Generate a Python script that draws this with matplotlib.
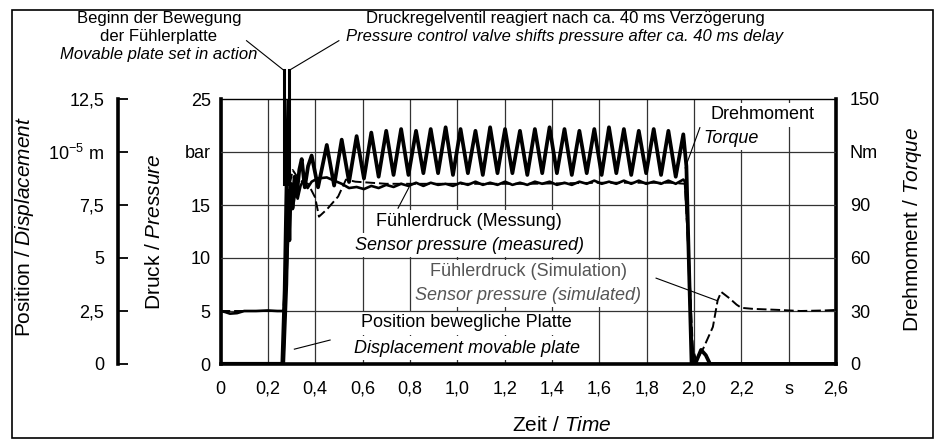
import numpy as np
import matplotlib.pyplot as plt
from matplotlib.patches import Rectangle

plt.rcParams['font.family'] = ['Liberation Sans', 'DejaVu Sans']
plt.rcParams['mathtext.fontset'] = 'custom'
plt.rcParams['mathtext.rm'] = 'Liberation Sans'
plt.rcParams['mathtext.it'] = 'Liberation Sans:italic'

# axes ticks and labels
time_ticks = [0, 0.2, 0.4, 0.6, 0.8, 1.0, 1.2, 1.4, 1.6, 1.8, 2.0, 2.2, 2.4, 2.6]
time_labels = ['0', '0,2', '0,4', '0,6', '0,8', '1,0', '1,2', '1,4', '1,6', '1,8', '2,0', '2,2', 's', '2,6']
pressure_ticks = [0, 5, 10, 15, 20, 25]
pressure_labels = ['0', '5', '10', '15', 'bar', '25']
position_ticks = [0, 2.5, 5, 7.5, 10, 12.5]
position_labels = ['0', '2,5', '5', '7,5', r'$\mathregular{10^{-5}}$ m', '12,5']
torque_ticks = [0, 30, 60, 90, 120, 150]
torque_labels = ['0', '30', '60', '90', 'Nm', '150']

# torque oscillation (Nm), peaks and troughs
peak_t = [0.449, 0.512, 0.575, 0.637, 0.700, 0.763, 0.826, 0.888, 0.951, 1.014,
          1.077, 1.139, 1.202, 1.265, 1.328, 1.390, 1.453, 1.516, 1.579, 1.641,
          1.704, 1.767, 1.830, 1.892, 1.955]
peak_nm = [124, 127, 129, 131, 132, 133, 132, 133, 134, 133, 132, 134, 133, 132,
           133, 134, 133, 132, 133, 134, 133, 132, 133, 132, 130]
trough_t = [0.480, 0.543, 0.606, 0.668, 0.731, 0.794, 0.857, 0.919, 0.982, 1.045,
            1.108, 1.170, 1.233, 1.296, 1.359, 1.421, 1.484, 1.547, 1.610, 1.672,
            1.735, 1.798, 1.861, 1.923]
trough_nm = [101, 103, 105, 106, 107, 107, 108, 108, 107, 108, 107, 108, 108, 107,
             108, 108, 107, 108, 107, 108, 107, 108, 107, 106]

torque_start_t = [0.0, 0.265, 0.278, 0.286, 0.291, 0.297, 0.304, 0.313, 0.322, 0.333,
                  0.343, 0.356, 0.370, 0.385, 0.412]
torque_start_nm = [0, 0, 45, 98, 70, 102, 88, 106, 96, 110, 116, 100, 112, 118, 100]
torque_end_t = [1.968, 1.978, 1.990, 2.005, 2.030, 2.050, 2.068, 2.6]
torque_end_nm = [112, 60, 0, 0, 8, 5, 0, 0]

# measured sensor pressure (bar)
press_at_peak = [17.6, 17.0, 16.7, 16.8, 16.9, 17.0, 17.1, 17.1, 17.0, 17.1, 17.2, 17.1,
                 17.2, 17.1, 17.2, 17.2, 17.1, 17.2, 17.3, 17.2, 17.3, 17.3, 17.2, 17.3, 17.4]
press_at_trough = [17.3, 16.6, 16.5, 16.6, 16.7, 16.8, 16.8, 16.9, 16.8, 16.9, 16.9, 16.9,
                   16.9, 16.9, 17.0, 16.9, 16.9, 17.0, 17.0, 17.0, 17.0, 17.0, 17.0, 17.0]
press_start_t = [0.0, 0.02, 0.04, 0.07, 0.10, 0.15, 0.20, 0.24, 0.268, 0.280, 0.290,
                 0.298, 0.306, 0.316, 0.326, 0.338, 0.352, 0.368, 0.385, 0.41]
press_start_bar = [5.0, 4.9, 4.75, 4.8, 5.0, 5.0, 5.05, 5.0, 5.0, 9.0, 14.0,
                   15.5, 14.8, 16.2, 15.6, 16.8, 17.4, 16.6, 17.2, 17.5]
press_end_t = [1.962, 1.975, 1.988, 2.0, 2.6]
press_end_bar = [17.2, 12.0, 3.0, 0.0, 0.0]

# simulated sensor pressure (bar)
sim_t = [0.0, 0.265, 0.280, 0.293, 0.305, 0.320, 0.345, 0.370, 0.400, 0.416, 0.450,
         0.497, 0.530, 0.570, 0.700, 1.000, 1.300, 1.600, 1.900, 1.962, 1.980, 1.995,
         2.010, 2.040, 2.080, 2.100, 2.115, 2.150, 2.180, 2.200, 2.250, 2.360, 2.450,
         2.550, 2.600]
sim_bar = [5.0, 5.0, 10.5, 17.0, 18.3, 17.8, 17.2, 17.0, 15.7, 13.9, 14.6,
           15.8, 17.4, 17.2, 17.0, 17.0, 17.0, 17.1, 17.1, 17.0, 9.0, 1.5,
           0.3, 1.5, 3.5, 6.0, 6.8, 6.2, 5.6, 5.3, 5.2, 5.1, 5.0,
           5.05, 5.1]

# plate displacement (1e-5 m)
pos_t = [0.0, 0.262, 0.272, 0.280, 0.290]
pos_val = [0.0, 0.0, 3.5, 8.5, 14.0]

# event times marked above the plot
t_plate_start = 0.268
t_valve = 0.290

# assemble the oscillating part
osc_t = np.empty(len(peak_t) + len(trough_t))
osc_t[0::2] = peak_t
osc_t[1::2] = trough_t
osc_nm = np.empty_like(osc_t)
osc_nm[0::2] = peak_nm
osc_nm[1::2] = trough_nm
osc_p = np.empty_like(osc_t)
osc_p[0::2] = press_at_peak
osc_p[1::2] = press_at_trough

torque_t = np.concatenate([torque_start_t, osc_t, torque_end_t])
torque_nm = np.concatenate([torque_start_nm, osc_nm, torque_end_nm])
press_t = np.concatenate([press_start_t, osc_t, press_end_t])
press_bar = np.concatenate([press_start_bar, osc_p, press_end_bar])

W, H = 939, 440
L, R, T, B = 220.5, 836, 99, 364
fig = plt.figure(figsize=(W / 100, H / 100), dpi=100)
ax = fig.add_axes([L / W, 1 - B / H, (R - L) / W, (B - T) / H])

fs_tick = 13
ax.set_xlim(0, 2.6)
ax.set_ylim(0, 25)
ax.set_xticks(time_ticks, time_labels)
ax.set_yticks(pressure_ticks, pressure_labels)
ax.tick_params(axis='both', length=0, labelsize=fs_tick)
ax.tick_params(axis='x', pad=12)
ax.tick_params(axis='y', pad=7)
ax.set_axisbelow(True)
ax.grid(axis='x', color='#333333', lw=0.9)
for v in pressure_ticks[1:-1]:
    ax.axhline(v, color='#333333', lw=0.9, zorder=3)
for s in ['left', 'bottom', 'right']:
    ax.spines[s].set_linewidth(2.6)
ax.spines['top'].set_linewidth(1.0)

ax.plot(sim_t, sim_bar, color='black', lw=1.4, ls=(0, (5, 2)), zorder=4)
ax.plot(press_t, press_bar, color='black', lw=1.9, zorder=5)

# torque axis on the right
axt = ax.twinx()
axt.set_ylim(0, 150)
axt.set_yticks(torque_ticks, torque_labels)
axt.tick_params(length=0, pad=10, labelsize=fs_tick)
for s in axt.spines.values():
    s.set_visible(False)
axt.plot(torque_t, torque_nm, color='black', lw=2.7, solid_joinstyle='round')

# displacement axis further left
axp = ax.twinx()
axp.set_ylim(0, 12.5)
for s in axp.spines.values():
    s.set_visible(False)
axp.spines['left'].set_visible(True)
axp.spines['left'].set_position(('axes', (118 - L) / (R - L)))
axp.spines['left'].set_linewidth(2.6)
axp.yaxis.set_ticks_position('left')
axp.set_yticks(position_ticks, position_labels)
axp.tick_params(direction='in', length=7, width=1.3, pad=10, labelsize=fs_tick)
axp.plot(pos_t, pos_val, color='black', lw=3.0)

# axis titles
fs_lab = 15
fig.text(25 / W, 1 - 227 / H, r'Position / $\mathit{Displacement}$', rotation=90,
         ha='center', va='center', fontsize=fs_lab)
fig.text(155 / W, 1 - 232 / H, r'Druck / $\mathit{Pressure}$', rotation=90,
         ha='center', va='center', fontsize=fs_lab)
fig.text(913 / W, 1 - 229 / H, r'Drehmoment / $\mathit{Torque}$', rotation=90,
         ha='center', va='center', fontsize=fs_lab)
fig.text(562 / W, 1 - 425 / H, r'Zeit / $\mathit{Time}$', ha='center', va='center',
         fontsize=fs_lab)

# curve labels
box = dict(fc='white', ec='none', pad=2.5)
fs = 13
ax.text(1.05, 13.4, 'Fühlerdruck (Messung)', ha='center', va='center', fontsize=fs,
        bbox=box, zorder=2.9)
ax.text(1.05, 11.2, 'Sensor pressure (measured)', ha='center', va='center', fontsize=fs,
        style='italic', bbox=box, zorder=2.9)
ax.plot([0.75, 0.797], [14.7, 16.7], color='black', lw=0.8, zorder=4)

ax.text(1.30, 8.7, 'Fühlerdruck (Simulation)', ha='center', va='center', fontsize=fs,
        color='#555555', bbox=box, zorder=2.9)
ax.text(1.30, 6.5, 'Sensor pressure (simulated)', ha='center', va='center', fontsize=fs,
        color='#555555', style='italic', bbox=box, zorder=2.9)
ax.plot([1.84, 2.095], [8.1, 6.0], color='black', lw=0.8, zorder=4)

ax.text(1.04, 3.9, 'Position bewegliche Platte', ha='center', va='center', fontsize=fs,
        bbox=box, zorder=2.9)
ax.text(1.04, 1.5, 'Displacement movable plate', ha='center', va='center', fontsize=fs,
        style='italic', bbox=box, zorder=2.9)
ax.plot([0.463, 0.312], [2.26, 1.4], color='black', lw=0.8, zorder=4)

ax.text(2.29, 23.5, 'Drehmoment', ha='center', va='center', fontsize=fs,
        bbox=box, zorder=2.9)
ax.text(2.04, 21.3, 'Torque', ha='left', va='center', fontsize=fs, style='italic',
        bbox=box, zorder=2.9)
ax.plot([2.025, 1.963], [22.3, 18.5], color='black', lw=0.8, zorder=4)

# event annotations above the plot
y_top = 27.7
fs_top = 12
ax.text(-0.26, 32.6, 'Beginn der Bewegung', ha='center', va='center', fontsize=fs_top,
        clip_on=False)
ax.text(-0.26, 30.9, 'der Fühlerplatte', ha='center', va='center', fontsize=fs_top,
        clip_on=False)
ax.text(-0.26, 29.2, 'Movable plate set in action', ha='center', va='center',
        fontsize=fs_top, style='italic', clip_on=False)
ax.text(1.455, 32.6, 'Druckregelventil reagiert nach ca. 40 ms Verzögerung',
        ha='center', va='center', fontsize=fs_top, clip_on=False)
ax.text(1.455, 30.9, 'Pressure control valve shifts pressure after ca. 40 ms delay',
        ha='center', va='center', fontsize=fs_top, style='italic', clip_on=False)
ax.plot([0.11, t_plate_start], [30.5, y_top], color='black', lw=0.8, clip_on=False)
ax.plot([0.50, t_valve], [30.5, y_top], color='black', lw=0.8, clip_on=False)
for t in [t_plate_start, t_valve]:
    ax.plot([t, t], [17, y_top], color='black', lw=2.2, clip_on=False, zorder=6)

fig.patches.append(Rectangle((12 / W, 2 / H), 921 / W, 428 / H, transform=fig.transFigure,
                             fill=False, lw=1.2, ec='black'))

fig.savefig('out.png', dpi=100)
